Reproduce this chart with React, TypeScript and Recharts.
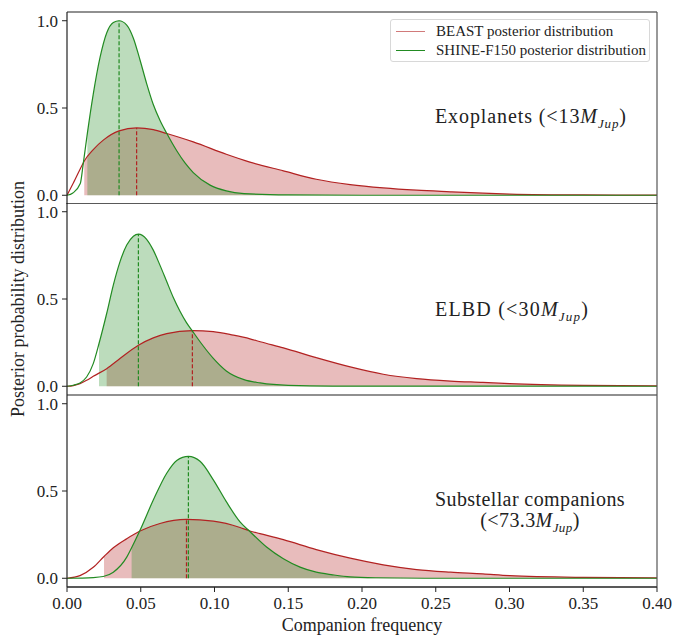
import React from 'react';
import { ComposedChart, Line, Area, XAxis, YAxis, ReferenceLine } from 'recharts';

const xTicks = [0, 0.05, 0.1, 0.15, 0.2, 0.25, 0.3, 0.35, 0.4];
const yTicks = [0, 0.5, 1];

// Exoplanets (<13 MJup)
const exoBeastX = [0, 0.0043, 0.011, 0.0117, 0.0178, 0.0246, 0.0353, 0.0472, 0.0585, 0.0676, 0.0856, 0.108, 0.124, 0.1467, 0.169, 0.192, 0.2144, 0.237, 0.26, 0.282, 0.3, 0.35, 0.4];
const exoBeastY = [0, 0.07, 0.185, 0.196, 0.262, 0.316, 0.369, 0.386, 0.376, 0.354, 0.306, 0.235, 0.19, 0.14, 0.092, 0.061, 0.042, 0.029, 0.02, 0.012, 0.007, 0.002, 0.001];
const exoShineX = [0, 0.004, 0.009, 0.011, 0.0138, 0.0178, 0.0224, 0.0269, 0.0314, 0.0353, 0.0405, 0.045, 0.0495, 0.054, 0.0585, 0.063, 0.0676, 0.0744, 0.08, 0.0856, 0.097, 0.108, 0.12, 0.15, 0.2, 0.4];
const exoShineY = [0, 0.013, 0.067, 0.18, 0.355, 0.58, 0.79, 0.93, 0.99, 1.0, 0.975, 0.9, 0.775, 0.64, 0.52, 0.43, 0.355, 0.255, 0.185, 0.13, 0.058, 0.025, 0.01, 0.002, 0, 0];

// ELBD (<30 MJup)
const elbdBeastX = [0, 0.0043, 0.0088, 0.0133, 0.0178, 0.0269, 0.0359, 0.0484, 0.0585, 0.0676, 0.085, 0.0992, 0.1127, 0.124, 0.131, 0.1467, 0.169, 0.192, 0.2144, 0.237, 0.26, 0.282, 0.3, 0.35, 0.4];
const elbdBeastY = [0, 0.004, 0.015, 0.034, 0.057, 0.101, 0.159, 0.235, 0.277, 0.302, 0.319, 0.313, 0.293, 0.272, 0.255, 0.22, 0.164, 0.111, 0.069, 0.044, 0.03, 0.022, 0.015, 0.005, 0.002];
const elbdShineX = [0, 0.0043, 0.0088, 0.0133, 0.0178, 0.0217, 0.0269, 0.0314, 0.0359, 0.0405, 0.045, 0.0484, 0.054, 0.0585, 0.063, 0.0676, 0.072, 0.0766, 0.081, 0.085, 0.0902, 0.0992, 0.108, 0.12, 0.131, 0.15, 0.18, 0.4];
const elbdShineY = [0, 0.006, 0.019, 0.053, 0.13, 0.245, 0.417, 0.58, 0.713, 0.809, 0.86, 0.872, 0.842, 0.78, 0.694, 0.6, 0.51, 0.43, 0.365, 0.317, 0.255, 0.16, 0.088, 0.038, 0.019, 0.005, 0.001, 0];

// Substellar companions (<73.3 MJup)
const subBeastX = [0, 0.0088, 0.0178, 0.0251, 0.0314, 0.0405, 0.0495, 0.063, 0.081, 0.0992, 0.1173, 0.124, 0.1308, 0.1467, 0.169, 0.192, 0.2144, 0.237, 0.26, 0.282, 0.3, 0.35, 0.4];
const subBeastY = [0, 0.015, 0.063, 0.125, 0.175, 0.227, 0.271, 0.314, 0.337, 0.327, 0.291, 0.271, 0.256, 0.221, 0.164, 0.115, 0.077, 0.05, 0.035, 0.025, 0.015, 0.005, 0.002];
const subShineX = [0, 0.0178, 0.0246, 0.0314, 0.0405, 0.0438, 0.0495, 0.0585, 0.0676, 0.0744, 0.0823, 0.0902, 0.0992, 0.108, 0.1173, 0.124, 0.1353, 0.1467, 0.158, 0.169, 0.18, 0.192, 0.21, 0.25, 0.4];
const subShineY = [0, 0.004, 0.01, 0.035, 0.121, 0.175, 0.275, 0.448, 0.602, 0.675, 0.698, 0.67, 0.564, 0.439, 0.323, 0.268, 0.179, 0.112, 0.064, 0.035, 0.02, 0.008, 0.003, 0, 0];

// lower edge of the shaded region for each posterior (BEAST, SHINE)
const shadeStart = [[0.0117, 0.0138], [0.0269, 0.0217], [0.0251, 0.0438]];
// peak positions and heights (BEAST, SHINE)
const peakX = [[0.0472, 0.0353], [0.085, 0.0484], [0.081, 0.0823]];
const peakY = [[0.386, 1.0], [0.319, 0.872], [0.337, 0.698]];

const legendNames = ['BEAST posterior distribution', 'SHINE-F150 posterior distribution'];

const RED = '#b22222';
const GREEN = '#228b22';
const INK = '#222';
const SERIF = '"Liberation Serif", "DejaVu Serif", serif';
const Y_DOMAIN = [-0.05, 1.05];

const zip = (xs: number[], ys: number[]) => xs.map((x, i) => ({ x, y: ys[i] }));

interface PanelProps {
  top: number;
  height: number;
  beast: { x: number; y: number }[];
  shine: { x: number; y: number }[];
  idx: number;
  bottomAxis?: boolean;
}

function Panel({ top, height, beast, shine, idx, bottomAxis }: PanelProps) {
  const beastFill = beast.filter((p) => p.x >= shadeStart[idx][0]);
  const shineFill = shine.filter((p) => p.x >= shadeStart[idx][1]);
  return (
    <div style={ { position: 'absolute', left: 0, top } }>
      <ComposedChart
        width={ 678 }
        height={ height }
        margin={ { top: idx === 0 ? 12 : 0, right: 21, bottom: bottomAxis ? 24 : 0, left: 0 } }
      >
        <XAxis
          dataKey="x"
          type="number"
          domain={ [0, 0.4] }
          ticks={ xTicks }
          interval={ 0 }
          allowDataOverflow
          height={ bottomAxis ? 26 : 0 }
          tick={ bottomAxis ? { fill: INK, fontSize: 17, fontFamily: SERIF } : false }
          tickLine={ bottomAxis ? { stroke: INK } : false }
          tickSize={ 5 }
          tickMargin={ 5 }
          tickFormatter={ (v) => v.toFixed(2) }
          axisLine={ { stroke: INK, strokeWidth: 1.2 } }
        />
        <YAxis
          type="number"
          domain={ Y_DOMAIN }
          ticks={ yTicks }
          interval={ 0 }
          allowDataOverflow
          width={ 67 }
          tick={ { fill: INK, fontSize: 17, fontFamily: SERIF } }
          tickLine={ { stroke: INK } }
          tickSize={ 5 }
          tickMargin={ 4 }
          tickFormatter={ (v) => v.toFixed(1) }
          axisLine={ { stroke: INK, strokeWidth: 1.2 } }
        />
        <Area
          data={ beastFill }
          dataKey="y"
          type="monotone"
          fill={ RED }
          fillOpacity={ 0.3 }
          stroke="none"
          isAnimationActive={ false }
        />
        <Area
          data={ shineFill }
          dataKey="y"
          type="monotone"
          fill={ GREEN }
          fillOpacity={ 0.3 }
          stroke="none"
          isAnimationActive={ false }
        />
        <ReferenceLine
          segment={ [{ x: peakX[idx][1], y: 0 }, { x: peakX[idx][1], y: peakY[idx][1] }] }
          stroke={ GREEN }
          strokeDasharray="4 2"
          strokeWidth={ 1.2 }
          ifOverflow="visible"
        />
        <ReferenceLine
          segment={ [{ x: peakX[idx][0], y: 0 }, { x: peakX[idx][0], y: peakY[idx][0] }] }
          stroke={ RED }
          strokeDasharray="4 2"
          strokeWidth={ 1.2 }
          ifOverflow="visible"
        />
        <Line
          data={ beast }
          dataKey="y"
          type="monotone"
          stroke={ RED }
          strokeWidth={ 1.2 }
          dot={ false }
          isAnimationActive={ false }
        />
        <Line
          data={ shine }
          dataKey="y"
          type="monotone"
          stroke={ GREEN }
          strokeWidth={ 1.2 }
          dot={ false }
          isAnimationActive={ false }
        />
        {/* panel frame */}
        <ReferenceLine y={ Y_DOMAIN[1] } stroke={ INK } strokeWidth={ 1.2 } ifOverflow="visible" />
        <ReferenceLine y={ Y_DOMAIN[0] } stroke={ INK } strokeWidth={ 1.2 } ifOverflow="visible" />
        <ReferenceLine x={ 0.4 } stroke="#555" strokeWidth={ 1.2 } ifOverflow="visible" />
      </ComposedChart>
    </div>
  );
}

const mj = (
  <>
    <i>M</i>
    <sub style={ { fontSize: '0.65em', fontStyle: 'italic' } }>Jup</sub>
  </>
);

export default function App() {
  const note: React.CSSProperties = {
    position: 'absolute',
    fontFamily: SERIF,
    fontSize: 20,
    color: INK,
    whiteSpace: 'nowrap',
    lineHeight: '21px',
  };
  return (
    <div style={ { position: 'absolute', left: 0, top: 0, width: 678, height: 637, background: '#fff' } }>
      <Panel top={ 0 } height={ 204 } beast={ zip(exoBeastX, exoBeastY) } shine={ zip(exoShineX, exoShineY) } idx={ 0 } />
      <Panel top={ 203 } height={ 192 } beast={ zip(elbdBeastX, elbdBeastY) } shine={ zip(elbdShineX, elbdShineY) } idx={ 1 } />
      <Panel top={ 395 } height={ 242 } beast={ zip(subBeastX, subBeastY) } shine={ zip(subShineX, subShineY) } idx={ 2 } bottomAxis />

      <svg width={ 40 } height={ 637 } style={ { position: 'absolute', left: 0, top: 0 } }>
        <text
          x={ 18 }
          y={ 299 }
          transform="rotate(-90 18 299)"
          textAnchor="middle"
          dominantBaseline="central"
          fontFamily={ SERIF }
          fontSize={ 18 }
          fill={ INK }
        >
          Posterior probability distribution
        </text>
      </svg>

      <div
        style={ {
          position: 'absolute',
          left: 390,
          top: 19,
          boxSizing: 'border-box',
          width: 260,
          height: 43,
          border: '1px solid #d8d8d8',
          borderRadius: 3,
          background: 'rgba(255,255,255,0.85)',
          fontFamily: SERIF,
          fontSize: 15,
          color: INK,
          padding: '2px 0 0 5px',
        } }
      >
        { legendNames.map((name, i) => (
          <div key={ name } style={ { display: 'flex', alignItems: 'center', height: 19 } }>
            <span
              style={ {
                display: 'inline-block',
                width: 29,
                height: 0,
                borderTop: `1.3px solid ${ i === 0 ? RED : GREEN }`,
                opacity: i === 0 ? 0.6 : 1,
                marginRight: 11,
              } }
            />
            { name }
          </div>
        )) }
      </div>

      <div style={ { ...note, left: 435, top: 106, letterSpacing: 0.9 } }>Exoplanets (&lt;13{ mj })</div>
      <div style={ { ...note, left: 435, top: 299, letterSpacing: 1.2 } }>ELBD (&lt;30{ mj })</div>
      <div style={ { ...note, left: 430, top: 489, width: 200, textAlign: 'center', letterSpacing: 0.4 } }>
        Substellar companions
        <br />
        (&lt;73.3{ mj })
      </div>

      <div style={ { position: 'absolute', left: 0, top: 615, width: 724, textAlign: 'center', fontFamily: SERIF, fontSize: 18, color: INK } }>
        Companion frequency
      </div>
    </div>
  );
}
